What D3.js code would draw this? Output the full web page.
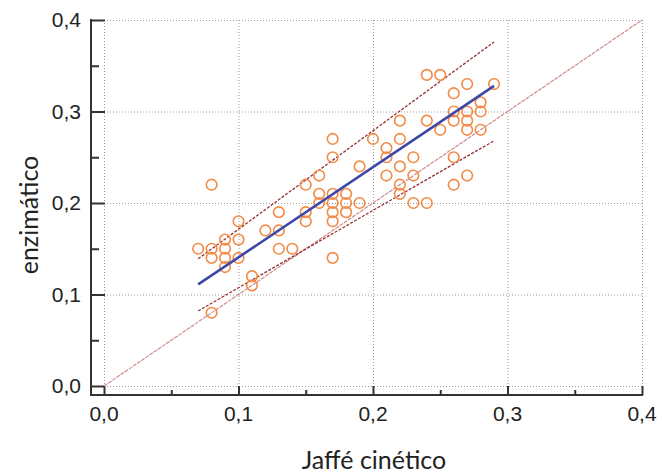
<!DOCTYPE html>
<html>
<head>
<meta charset="utf-8">
<script src="https://cdn.jsdelivr.net/npm/d3@7/dist/d3.min.js"></script>
<style>
  body { margin: 0; background: #fff; }
  .tick-label { font-family: "Liberation Sans", Arial, sans-serif; font-size: 21px; fill: #222; }
  .axis-title { font-family: Lato, "Open Sans", sans-serif; font-size: 25px; fill: #222; }
</style>
</head>
<body>
<div id="chart"></div>
<script>
// paired measurements (Jaffé cinético, enzimático)
const jaffe = [
  0.07,
  0.08, 0.08, 0.08, 0.08,
  0.09, 0.09, 0.09, 0.09,
  0.10, 0.10, 0.10,
  0.11, 0.11,
  0.12,
  0.13, 0.13, 0.13,
  0.14,
  0.15, 0.15, 0.15,
  0.16, 0.16, 0.16,
  0.17, 0.17, 0.17, 0.17, 0.17, 0.17, 0.17,
  0.18, 0.18, 0.18,
  0.19, 0.19,
  0.20,
  0.21, 0.21, 0.21,
  0.22, 0.22, 0.22, 0.22, 0.22,
  0.23, 0.23, 0.23,
  0.24, 0.24, 0.24,
  0.25, 0.25,
  0.26, 0.26, 0.26, 0.26, 0.26,
  0.27, 0.27, 0.27, 0.27, 0.27,
  0.28, 0.28, 0.28,
  0.29
];
const enzimatico = [
  0.15,
  0.22, 0.15, 0.14, 0.08,
  0.16, 0.15, 0.14, 0.13,
  0.18, 0.16, 0.14,
  0.12, 0.11,
  0.17,
  0.19, 0.17, 0.15,
  0.15,
  0.22, 0.19, 0.18,
  0.23, 0.21, 0.20,
  0.27, 0.25, 0.21, 0.20, 0.19, 0.18, 0.14,
  0.21, 0.20, 0.19,
  0.24, 0.20,
  0.27,
  0.26, 0.25, 0.23,
  0.29, 0.27, 0.24, 0.22, 0.21,
  0.25, 0.23, 0.20,
  0.34, 0.29, 0.20,
  0.34, 0.28,
  0.32, 0.30, 0.29, 0.25, 0.22,
  0.33, 0.30, 0.29, 0.28, 0.23,
  0.31, 0.30, 0.28,
  0.33
];

// fitted line and its bands, as [x0, x1] / [y0, y1]
const fitX = [0.07, 0.29];
const fitY = [0.111, 0.328];
const upperY = [0.139, 0.376];
const lowerY = [0.082, 0.268];
const identity = [0, 0.4];

const majorTicks = [0, 0.1, 0.2, 0.3, 0.4];
const minorTicks = [0.05, 0.15, 0.25, 0.35];

const width = 662;
const height = 476;

const svg = d3.select('#chart').append('svg')
  .attr('width', width)
  .attr('height', height);

const x = d3.scaleLinear().domain([0, 0.4]).range([104, 642]);
const y = d3.scaleLinear().domain([0, 0.4]).range([386, 20]);
const spineX = 91;
const spineY = 395;
const fmt = (d) => d3.format('.1f')(d).replace('.', ',');

// grid
const grid = svg.append('g')
  .attr('stroke', '#9c9c9c')
  .attr('stroke-width', 1)
  .attr('stroke-dasharray', '1,2');
grid.selectAll('line.gx').data(majorTicks).enter().append('line')
  .attr('x1', (d) => x(d) + 0.5).attr('x2', (d) => x(d) + 0.5)
  .attr('y1', y(0.4)).attr('y2', y(0));
grid.selectAll('line.gy').data(majorTicks).enter().append('line')
  .attr('y1', (d) => y(d) + 0.5).attr('y2', (d) => y(d) + 0.5)
  .attr('x1', x(0)).attr('x2', x(0.4));

// axes: inward ticks, offset spines
const axes = svg.append('g').attr('class', 'axes');
const axisLeft = axes.append('g').attr('transform', `translate(${spineX},0)`);
axisLeft.call(d3.axisRight(y).tickValues(majorTicks).tickSize(x(0) - spineX + 1).tickFormat(''));
axisLeft.append('g').call(d3.axisRight(y).tickValues(minorTicks).tickSize(8).tickFormat(''));
axisLeft.selectAll('.domain').remove();
axisLeft.append('line').attr('x1', 0).attr('x2', 0).attr('y1', y(0.4) - 1).attr('y2', spineY + 1);

const axisBottom = axes.append('g').attr('transform', `translate(0,${spineY})`);
axisBottom.call(d3.axisTop(x).tickValues(majorTicks).tickSize(spineY - y(0)).tickFormat(''));
axisBottom.append('g').call(d3.axisTop(x).tickValues(minorTicks).tickSize(5).tickFormat(''));
axisBottom.selectAll('.domain').remove();
axisBottom.append('line').attr('x1', spineX - 1).attr('x2', x(0.4) + 1).attr('y1', 0).attr('y2', 0);

axes.selectAll('line').attr('stroke', '#333').attr('stroke-width', 2);

// tick labels
svg.selectAll('text.ylab').data(majorTicks).enter().append('text')
  .attr('class', 'tick-label')
  .attr('x', 81).attr('y', (d) => y(d) + 7)
  .attr('text-anchor', 'end')
  .text(fmt);
svg.selectAll('text.xlab').data(majorTicks).enter().append('text')
  .attr('class', 'tick-label')
  .attr('x', (d) => x(d)).attr('y', 421)
  .attr('text-anchor', 'middle')
  .text(fmt);

// axis titles
svg.append('text').attr('class', 'axis-title')
  .attr('transform', `translate(38,${y(0.2) + 12}) rotate(-90)`)
  .attr('text-anchor', 'middle')
  .text('enzimático');
svg.append('text').attr('class', 'axis-title')
  .attr('x', 374).attr('y', 469)
  .attr('text-anchor', 'middle')
  .text('Jaffé cinético');

// identity line
svg.append('line')
  .attr('x1', x(identity[0])).attr('y1', y(identity[0]))
  .attr('x2', x(identity[1])).attr('y2', y(identity[1]))
  .attr('stroke', '#d08a8a').attr('stroke-width', 1.2)
  .attr('stroke-dasharray', '4,1');

// bands
[upperY, lowerY].forEach((band) => {
  svg.append('line')
    .attr('x1', x(fitX[0])).attr('y1', y(band[0]))
    .attr('x2', x(fitX[1])).attr('y2', y(band[1]))
    .attr('stroke', '#9a3030').attr('stroke-width', 1.3)
    .attr('stroke-dasharray', '3,1.5');
});

// points
svg.append('g').selectAll('circle')
  .data(jaffe.map((d, i) => [d, enzimatico[i]]))
  .enter().append('circle')
  .attr('cx', (d) => x(d[0]))
  .attr('cy', (d) => y(d[1]))
  .attr('r', 5.3)
  .attr('fill', 'none')
  .attr('stroke', '#f38a45')
  .attr('stroke-width', 1.6);

// fitted line
svg.append('line')
  .attr('x1', x(fitX[0])).attr('y1', y(fitY[0]))
  .attr('x2', x(fitX[1])).attr('y2', y(fitY[1]))
  .attr('stroke', '#3d47a6').attr('stroke-width', 2.6);
</script>
</body>
</html>
